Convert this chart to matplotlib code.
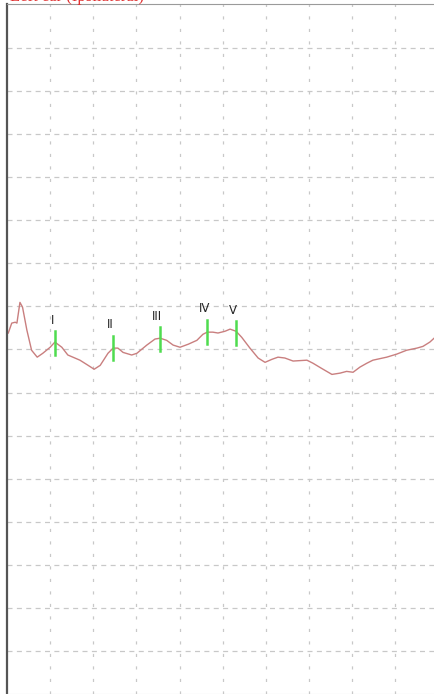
import matplotlib
matplotlib.use("Agg")
import matplotlib.pyplot as plt

# ABR trace, time in ms, amplitude in grid divisions
t_ms = [0.03, 0.11, 0.19, 0.23, 0.30, 0.36, 0.46, 0.57, 0.70, 0.83, 1.00, 1.11,
        1.27, 1.41, 1.69, 1.88, 2.02, 2.16, 2.34, 2.46, 2.57, 2.69, 2.89, 3.01,
        3.24, 3.43, 3.55, 3.70, 3.85, 4.01, 4.20, 4.40, 4.54, 4.64, 4.77, 4.89,
        5.05, 5.17, 5.31, 5.44, 5.63, 5.82, 5.98, 6.14, 6.28, 6.44, 6.63, 6.95,
        7.09, 7.29, 7.53, 7.72, 7.87, 8.02, 8.18, 8.34, 8.48, 8.80, 9.03, 9.26,
        9.50, 9.64, 9.80, 9.92, 10.0]
amp = [0.38, 0.61, 0.63, 0.61, 1.09, 0.98, 0.45, -0.02, -0.18, -0.09, 0.05, 0.17,
       0.05, -0.13, -0.25, -0.37, -0.46, -0.37, -0.09, 0.03, 0.03, -0.07, -0.13, -0.09,
       0.10, 0.24, 0.26, 0.21, 0.10, 0.05, 0.12, 0.21, 0.35, 0.40, 0.40, 0.38,
       0.42, 0.47, 0.42, 0.28, 0.03, -0.20, -0.30, -0.23, -0.18, -0.20, -0.27, -0.25,
       -0.32, -0.44, -0.58, -0.55, -0.51, -0.53, -0.41, -0.32, -0.25, -0.18, -0.11, -0.02,
       0.03, 0.07, 0.17, 0.28, 0.36]

# wave markers
wave_names = ["I", "II", "III", "IV", "V"]
wave_t = [1.11, 2.46, 3.55, 4.64, 5.31]
wave_amp = [0.14, 0.04, 0.24, 0.41, 0.38]

fig = plt.figure(figsize=(4.35, 6.94), dpi=100)
# plotting area: 10 ms wide, 16 divisions tall; right edge runs off the page
ax = fig.add_axes([7 / 435, -0.4 / 694, 431.5 / 435, 690 / 694])
ax.set_xlim(0, 10)
ax.set_ylim(-8, 8)

for x in range(1, 10):
    ax.axvline(x, color="#c8c8c8", lw=0.9, ls=(0, (2.5, 7.5)), zorder=0)
for y in range(-7, 8):
    ax.axhline(y, color="#c8c8c8", lw=0.9, ls=(0, (4, 3.5)), zorder=0)

ax.plot(t_ms, amp, color="#c97f7f", lw=1.0, zorder=2)

for name, t, a in zip(wave_names, wave_t, wave_amp):
    ax.plot([t, t], [a - 0.28, a + 0.28], color="#4fdc4f", lw=1.8, zorder=3)
    ax.annotate(name, (t, a + 0.28), xytext=(-2, 3), textcoords="offset points",
                ha="center", va="bottom", fontsize=8.5, color="#222222")

ax.set_xticks([])
ax.set_yticks([])
ax.spines["left"].set_color("#555555")
ax.spines["left"].set_linewidth(1.6)
ax.spines["top"].set_color("#9a9a9a")
ax.spines["bottom"].set_color("#cccccc")
ax.spines["right"].set_visible(False)

fig.text(10 / 435, 1 - 1.0 / 694, "Left ear (Ipsilateral)", color="#e03030",
         fontsize=12, family="Liberation Serif", ha="left", va="baseline")

fig.savefig("out.png", dpi=100)
